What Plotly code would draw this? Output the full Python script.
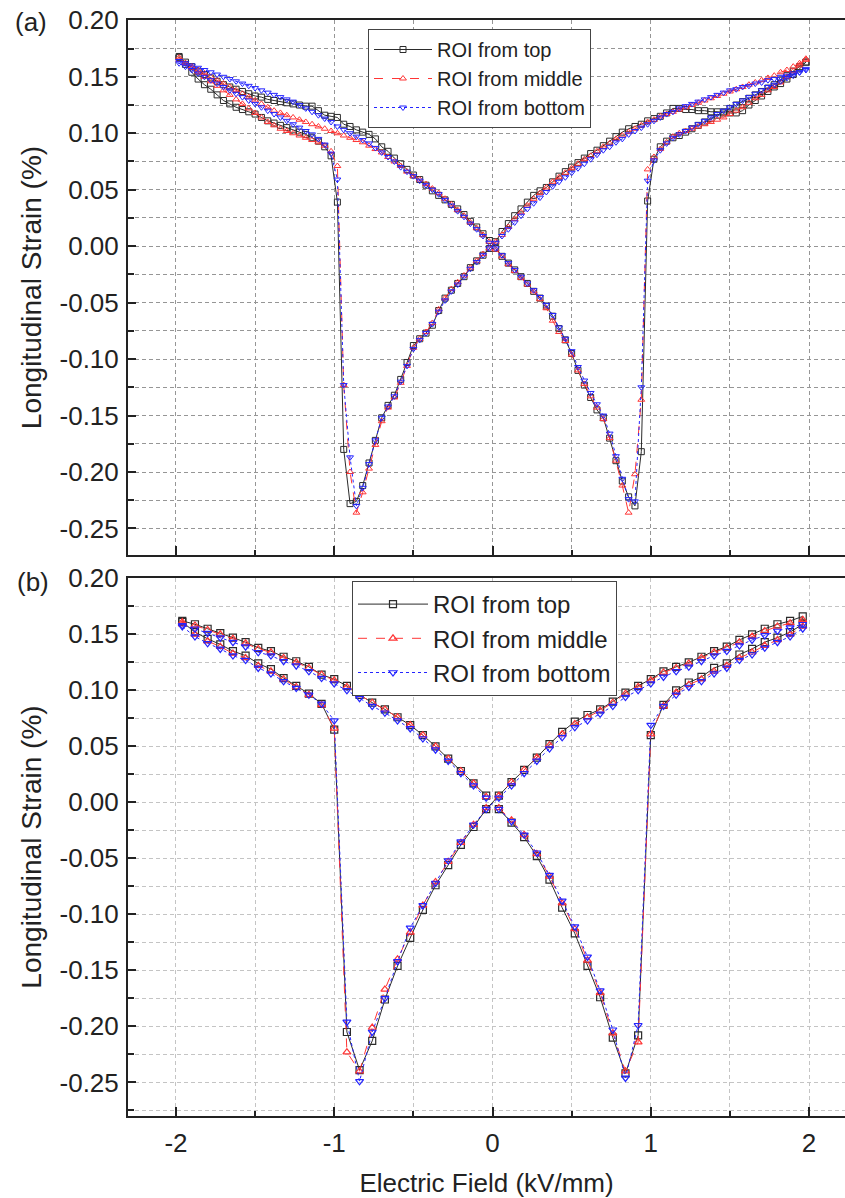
import plotly.graph_objects as go

# ---------------- data ----------------
series_names = ["ROI from top", "ROI from middle", "ROI from bottom"]

# panel (a): field magnitudes (kV/mm) of the sampled points on each quarter of the sweep
field_a = [0.02, 0.06, 0.10, 0.14, 0.18, 0.22, 0.26, 0.30, 0.34, 0.38,
           0.42, 0.46, 0.50, 0.54, 0.58, 0.62, 0.66, 0.70, 0.74, 0.78,
           0.82, 0.86, 0.90, 0.94, 0.98, 1.02, 1.06, 1.10, 1.14, 1.18,
           1.22, 1.26, 1.30, 1.34, 1.38, 1.42, 1.46, 1.50, 1.54, 1.58,
           1.62, 1.66, 1.70, 1.74, 1.78, 1.82, 1.86, 1.90, 1.94, 1.98]

# strain (%) listed in order of increasing |E|
# "ps": 0 -> +2 (with switching), "pr": +2 -> 0, "ns": 0 -> -2 (with switching), "nr": -2 -> 0
a_top_ps = [-0.002, -0.009, -0.015, -0.021, -0.027, -0.033, -0.040, -0.046, -0.053, -0.062,
            -0.073, -0.083, -0.095, -0.110, -0.123, -0.134, -0.145, -0.152, -0.170, -0.190,
            -0.208, -0.222, -0.230, -0.182, 0.040, 0.077, 0.088, 0.093, 0.096, 0.098,
            0.101, 0.104, 0.107, 0.110, 0.113, 0.116, 0.119, 0.122, 0.125, 0.128,
            0.131, 0.134, 0.137, 0.140, 0.143, 0.147, 0.151, 0.155, 0.159, 0.163]
a_top_pr = [0.004, 0.013, 0.020, 0.027, 0.033, 0.039, 0.045, 0.049, 0.052, 0.057,
            0.062, 0.066, 0.070, 0.074, 0.078, 0.082, 0.085, 0.089, 0.093, 0.097,
            0.101, 0.104, 0.106, 0.108, 0.111, 0.113, 0.115, 0.118, 0.122, 0.122,
            0.121, 0.121, 0.120, 0.120, 0.119, 0.119, 0.118, 0.118, 0.118, 0.120,
            0.125, 0.129, 0.133, 0.137, 0.141, 0.144, 0.148, 0.152, 0.157, 0.163]
a_top_ns = [-0.002, -0.008, -0.013, -0.019, -0.027, -0.033, -0.039, -0.046, -0.057, -0.070,
            -0.077, -0.082, -0.088, -0.103, -0.118, -0.132, -0.141, -0.152, -0.172, -0.192,
            -0.212, -0.226, -0.228, -0.180, 0.039, 0.080, 0.088, 0.093, 0.096, 0.099,
            0.101, 0.103, 0.105, 0.107, 0.109, 0.111, 0.114, 0.117, 0.119, 0.121,
            0.123, 0.126, 0.129, 0.134, 0.139, 0.143, 0.148, 0.154, 0.161, 0.168]
a_top_nr = [0.005, 0.011, 0.017, 0.022, 0.028, 0.033, 0.037, 0.041, 0.045, 0.049,
            0.054, 0.059, 0.063, 0.068, 0.073, 0.078, 0.084, 0.088, 0.095, 0.099,
            0.101, 0.103, 0.106, 0.108, 0.114, 0.115, 0.116, 0.120, 0.124, 0.124,
            0.125, 0.126, 0.127, 0.128, 0.129, 0.130, 0.132, 0.133, 0.135, 0.137,
            0.139, 0.141, 0.143, 0.146, 0.149, 0.152, 0.155, 0.159, 0.163, 0.167]

a_mid_ps = [-0.003, -0.009, -0.016, -0.022, -0.028, -0.034, -0.040, -0.047, -0.055, -0.066,
            -0.076, -0.084, -0.096, -0.110, -0.122, -0.133, -0.143, -0.153, -0.170, -0.190,
            -0.212, -0.236, -0.202, -0.136, 0.068, 0.079, 0.086, 0.092, 0.097, 0.100,
            0.102, 0.104, 0.106, 0.108, 0.110, 0.112, 0.114, 0.117, 0.120, 0.123,
            0.127, 0.131, 0.134, 0.138, 0.141, 0.145, 0.150, 0.155, 0.160, 0.166]
a_mid_pr = [0.004, 0.010, 0.017, 0.024, 0.030, 0.036, 0.042, 0.047, 0.052, 0.057,
            0.061, 0.065, 0.069, 0.073, 0.077, 0.080, 0.084, 0.088, 0.091, 0.095,
            0.098, 0.101, 0.104, 0.107, 0.110, 0.112, 0.115, 0.117, 0.119, 0.121,
            0.123, 0.125, 0.127, 0.129, 0.131, 0.133, 0.135, 0.137, 0.139, 0.141,
            0.143, 0.145, 0.147, 0.149, 0.151, 0.154, 0.156, 0.159, 0.162, 0.165]
a_mid_ns = [-0.002, -0.007, -0.013, -0.019, -0.026, -0.032, -0.038, -0.046, -0.056, -0.068,
            -0.076, -0.082, -0.090, -0.106, -0.121, -0.134, -0.143, -0.155, -0.176, -0.197,
            -0.218, -0.236, -0.200, -0.123, 0.071, 0.084, 0.089, 0.092, 0.094, 0.096,
            0.098, 0.100, 0.102, 0.104, 0.107, 0.110, 0.114, 0.118, 0.122, 0.126,
            0.130, 0.134, 0.138, 0.142, 0.146, 0.150, 0.154, 0.158, 0.162, 0.167]
a_mid_nr = [0.004, 0.010, 0.016, 0.021, 0.027, 0.032, 0.037, 0.042, 0.047, 0.051,
            0.055, 0.059, 0.062, 0.066, 0.071, 0.075, 0.079, 0.083, 0.086, 0.089,
            0.092, 0.094, 0.096, 0.098, 0.100, 0.102, 0.104, 0.106, 0.108, 0.110,
            0.112, 0.114, 0.116, 0.118, 0.120, 0.123, 0.126, 0.129, 0.132, 0.135,
            0.138, 0.141, 0.144, 0.147, 0.150, 0.153, 0.156, 0.159, 0.162, 0.165]

a_bot_ps = [-0.002, -0.008, -0.015, -0.021, -0.027, -0.033, -0.039, -0.045, -0.052, -0.061,
            -0.072, -0.082, -0.093, -0.107, -0.119, -0.130, -0.140, -0.150, -0.166, -0.186,
            -0.206, -0.224, -0.226, -0.125, 0.058, 0.076, 0.085, 0.091, 0.096, 0.099,
            0.102, 0.105, 0.108, 0.111, 0.114, 0.117, 0.120, 0.123, 0.126, 0.129,
            0.132, 0.135, 0.138, 0.141, 0.143, 0.146, 0.149, 0.151, 0.154, 0.157]
a_bot_pr = [0.003, 0.009, 0.015, 0.021, 0.027, 0.033, 0.038, 0.043, 0.048, 0.053,
            0.057, 0.061, 0.065, 0.069, 0.073, 0.077, 0.081, 0.085, 0.088, 0.092,
            0.095, 0.099, 0.102, 0.105, 0.108, 0.111, 0.114, 0.117, 0.119, 0.122,
            0.124, 0.126, 0.128, 0.130, 0.132, 0.134, 0.136, 0.138, 0.139, 0.141,
            0.142, 0.144, 0.145, 0.147, 0.148, 0.150, 0.151, 0.153, 0.154, 0.156]
a_bot_ns = [-0.002, -0.008, -0.014, -0.020, -0.027, -0.034, -0.040, -0.048, -0.058, -0.069,
            -0.077, -0.083, -0.091, -0.106, -0.120, -0.133, -0.142, -0.152, -0.172, -0.193,
            -0.214, -0.230, -0.187, -0.123, 0.059, 0.082, 0.090, 0.095, 0.099, 0.102,
            0.105, 0.108, 0.111, 0.114, 0.117, 0.120, 0.123, 0.126, 0.129, 0.132,
            0.135, 0.138, 0.141, 0.144, 0.147, 0.150, 0.153, 0.156, 0.159, 0.162]
a_bot_nr = [0.003, 0.009, 0.015, 0.020, 0.026, 0.031, 0.036, 0.041, 0.046, 0.050,
            0.054, 0.058, 0.062, 0.066, 0.070, 0.075, 0.079, 0.083, 0.087, 0.091,
            0.094, 0.097, 0.100, 0.103, 0.106, 0.110, 0.113, 0.116, 0.119, 0.122,
            0.125, 0.128, 0.130, 0.132, 0.134, 0.136, 0.138, 0.140, 0.142, 0.144,
            0.146, 0.148, 0.150, 0.152, 0.154, 0.156, 0.158, 0.160, 0.162, 0.164]

# panel (b)
field_b = [0.04, 0.12, 0.20, 0.28, 0.36, 0.44, 0.52, 0.60, 0.68, 0.76,
           0.84, 0.92, 1.00, 1.08, 1.16, 1.24, 1.32, 1.40, 1.48, 1.56,
           1.64, 1.72, 1.80, 1.88, 1.96]

b_top_ps = [-0.006, -0.018, -0.031, -0.048, -0.069, -0.094, -0.117, -0.146, -0.174, -0.210,
            -0.242, -0.208, 0.060, 0.087, 0.100, 0.107, 0.112, 0.120, 0.124, 0.132,
            0.137, 0.143, 0.147, 0.152, 0.159]
b_top_pr = [0.006, 0.018, 0.029, 0.040, 0.052, 0.063, 0.072, 0.078, 0.083, 0.090,
            0.098, 0.104, 0.110, 0.117, 0.121, 0.125, 0.130, 0.135, 0.139, 0.145,
            0.150, 0.155, 0.159, 0.162, 0.166]
b_top_ns = [-0.006, -0.022, -0.038, -0.056, -0.074, -0.096, -0.121, -0.146, -0.176, -0.213,
            -0.239, -0.205, 0.065, 0.088, 0.097, 0.104, 0.111, 0.119, 0.124, 0.131,
            0.135, 0.141, 0.146, 0.152, 0.161]
b_top_nr = [0.006, 0.017, 0.028, 0.039, 0.050, 0.060, 0.069, 0.076, 0.083, 0.089,
            0.096, 0.104, 0.110, 0.114, 0.121, 0.126, 0.130, 0.135, 0.138, 0.143,
            0.147, 0.151, 0.155, 0.159, 0.162]

b_mid_ps = [-0.005, -0.016, -0.029, -0.046, -0.066, -0.090, -0.113, -0.141, -0.170, -0.206,
            -0.240, -0.214, 0.061, 0.086, 0.098, 0.105, 0.110, 0.117, 0.122, 0.129,
            0.134, 0.140, 0.145, 0.150, 0.157]
b_mid_pr = [0.006, 0.018, 0.029, 0.040, 0.051, 0.061, 0.070, 0.076, 0.082, 0.089,
            0.097, 0.103, 0.109, 0.116, 0.120, 0.124, 0.129, 0.134, 0.138, 0.143,
            0.148, 0.153, 0.157, 0.160, 0.163]
b_mid_ns = [-0.005, -0.020, -0.036, -0.053, -0.071, -0.092, -0.116, -0.140, -0.167, -0.201,
            -0.240, -0.223, 0.066, 0.087, 0.096, 0.103, 0.110, 0.117, 0.122, 0.129,
            0.133, 0.139, 0.144, 0.150, 0.159]
b_mid_nr = [0.005, 0.017, 0.028, 0.039, 0.050, 0.060, 0.069, 0.076, 0.083, 0.089,
            0.096, 0.103, 0.109, 0.114, 0.120, 0.125, 0.129, 0.134, 0.137, 0.142,
            0.146, 0.150, 0.154, 0.158, 0.161]

b_bot_ps = [-0.006, -0.017, -0.029, -0.045, -0.065, -0.088, -0.111, -0.138, -0.168, -0.203,
            -0.246, -0.199, 0.069, 0.086, 0.096, 0.103, 0.108, 0.115, 0.120, 0.127,
            0.132, 0.138, 0.143, 0.148, 0.155]
b_bot_pr = [0.004, 0.015, 0.026, 0.037, 0.048, 0.058, 0.067, 0.073, 0.079, 0.086,
            0.094, 0.100, 0.106, 0.112, 0.117, 0.121, 0.126, 0.131, 0.135, 0.140,
            0.145, 0.149, 0.153, 0.156, 0.159]
b_bot_ns = [-0.006, -0.020, -0.035, -0.052, -0.072, -0.092, -0.112, -0.142, -0.175, -0.205,
            -0.249, -0.196, 0.073, 0.088, 0.096, 0.102, 0.108, 0.115, 0.120, 0.127,
            0.131, 0.137, 0.142, 0.148, 0.157]
b_bot_nr = [0.004, 0.015, 0.026, 0.037, 0.047, 0.057, 0.066, 0.073, 0.080, 0.086,
            0.093, 0.100, 0.106, 0.111, 0.117, 0.122, 0.126, 0.131, 0.134, 0.139,
            0.143, 0.147, 0.151, 0.155, 0.158]

x_tickvals = [-2, -1, 0, 1, 2]
x_ticktext = ["-2", "-1", "0", "1", "2"]
y_tickvals = [-0.25, -0.20, -0.15, -0.10, -0.05, 0.00, 0.05, 0.10, 0.15, 0.20]
y_ticktext = ["-0.25", "-0.20", "-0.15", "-0.10", "-0.05", "0.00", "0.05", "0.10", "0.15", "0.20"]


def sweep(field, ps, pr, ns, nr):
    """Order the four quarters as measured: 0 -> +2 -> 0 -> -2 -> 0."""
    x = list(field) + list(field[::-1]) + [-e for e in field] + [-e for e in field[::-1]]
    y = list(ps) + list(pr[::-1]) + list(ns) + list(nr[::-1])
    return x, y


styles = [
    dict(color="#2b2b2b", dash="solid", symbol="square-open"),
    dict(color="#ff3535", dash="dash", symbol="triangle-up-open"),
    dict(color="#2424ff", dash="dot", symbol="triangle-down-open"),
]

panel_a = [(a_top_ps, a_top_pr, a_top_ns, a_top_nr),
           (a_mid_ps, a_mid_pr, a_mid_ns, a_mid_nr),
           (a_bot_ps, a_bot_pr, a_bot_ns, a_bot_nr)]
panel_b = [(b_top_ps, b_top_pr, b_top_ns, b_top_nr),
           (b_mid_ps, b_mid_pr, b_mid_ns, b_mid_nr),
           (b_bot_ps, b_bot_pr, b_bot_ns, b_bot_nr)]

fig = go.Figure()
for name, st, data in zip(series_names, styles, panel_a):
    x, y = sweep(field_a, *data)
    fig.add_trace(go.Scatter(
        x=x, y=y, name=name, mode="lines+markers", xaxis="x", yaxis="y",
        line=dict(color=st["color"], dash=st["dash"], width=1),
        marker=dict(symbol=st["symbol"], size=6, color=st["color"],
                    line=dict(color=st["color"], width=1)),
        legend="legend"))
for name, st, data in zip(series_names, styles, panel_b):
    x, y = sweep(field_b, *data)
    fig.add_trace(go.Scatter(
        x=x, y=y, name=name, mode="lines+markers", xaxis="x2", yaxis="y2",
        line=dict(color=st["color"], dash=st["dash"], width=1),
        marker=dict(symbol=st["symbol"], size=7, color=st["color"],
                    line=dict(color=st["color"], width=1.2)),
        legend="legend2"))

W, H = 845, 1198
FONT = "Liberation Sans, Arial, sans-serif"
dom_x = [128 / W, 1.0]
dom_a = [1 - 555 / H, 1 - 20 / H]
dom_b = [1 - 1116 / H, 1 - 578 / H]
xr = [-2.303, 2.227]


def xaxis(domain_anchor, labels, gridcolor):
    return dict(
        domain=dom_x, anchor=domain_anchor, range=xr, tickmode="array",
        tickvals=x_tickvals, ticktext=x_ticktext, showticklabels=labels,
        ticks="inside", ticklen=9, tickwidth=2, tickcolor="#222",
        showline=True, linecolor="#222", linewidth=2, mirror=True,
        showgrid=True, gridcolor=gridcolor, griddash="4px,3px", gridwidth=1,
        zeroline=False, automargin=False,
        tickfont=dict(family=FONT, size=26, color="#222"),
        ticklabelstandoff=3,
        minor=dict(dtick=0.5, tick0=0, ticks="inside", ticklen=5, tickwidth=1.5,
                   tickcolor="#222", showgrid=True, gridcolor=gridcolor,
                   griddash="4px,3px", gridwidth=1),
    )


def yaxis(domain, anchor, yr, gridcolor):
    return dict(
        domain=domain, anchor=anchor, range=yr, tickmode="array",
        tickvals=y_tickvals, ticktext=y_ticktext,
        ticks="inside", ticklen=8, tickwidth=2, tickcolor="#222",
        showline=True, linecolor="#222", linewidth=2, mirror=False,
        showgrid=True, gridcolor=gridcolor, griddash="4px,3px", gridwidth=1,
        zeroline=False, automargin=False,
        tickfont=dict(family=FONT, size=26, color="#222"),
        ticklabelstandoff=2,
        title=dict(text="Longitudinal Strain (%)", standoff=10,
                   font=dict(family=FONT, size=28, color="#222")),
        minor=dict(dtick=0.025, tick0=0, ticks="inside", ticklen=6, tickwidth=1.5,
                   tickcolor="#222", showgrid=True, gridcolor=gridcolor,
                   griddash="4px,3px", gridwidth=1),
    )


xa = xaxis("y", False, "#969696")
xb = xaxis("y2", True, "#c4c4c4")
xb["title"] = dict(text="Electric Field (kV/mm)", standoff=17,
                   font=dict(family=FONT, size=26, color="#222"))

fig.update_layout(
    width=W, height=H, margin=dict(l=0, r=0, t=0, b=0),
    paper_bgcolor="white", plot_bgcolor="white",
    font=dict(family=FONT, color="#222"),
    xaxis=xa, xaxis2=xb,
    yaxis=yaxis(dom_a, "x", [-0.2735, 0.2003], "#969696"),
    yaxis2=yaxis(dom_b, "x2", [-0.2800, 0.2003], "#c4c4c4"),
    legend=dict(x=368 / W, y=1 - 29 / H, xanchor="left", yanchor="top",
                bgcolor="white", bordercolor="#444", borderwidth=1,
                font=dict(family=FONT, size=20, color="#222"),
                itemwidth=58, tracegroupgap=0),
    legend2=dict(x=352 / W, y=1 - 581 / H, xanchor="left", yanchor="top",
                 bgcolor="white", bordercolor="#444", borderwidth=1,
                 font=dict(family=FONT, size=24, color="#222"),
                 itemwidth=70, tracegroupgap=0),
    annotations=[
        dict(text="(a)", x=13 / W, y=1 - 22 / H, xref="paper", yref="paper",
             xanchor="left", yanchor="middle", showarrow=False,
             font=dict(family=FONT, size=26, color="#222")),
        dict(text="(b)", x=15 / W, y=1 - 582 / H, xref="paper", yref="paper",
             xanchor="left", yanchor="middle", showarrow=False,
             font=dict(family=FONT, size=26, color="#222")),
    ],
)

fig.write_html("out.html")
